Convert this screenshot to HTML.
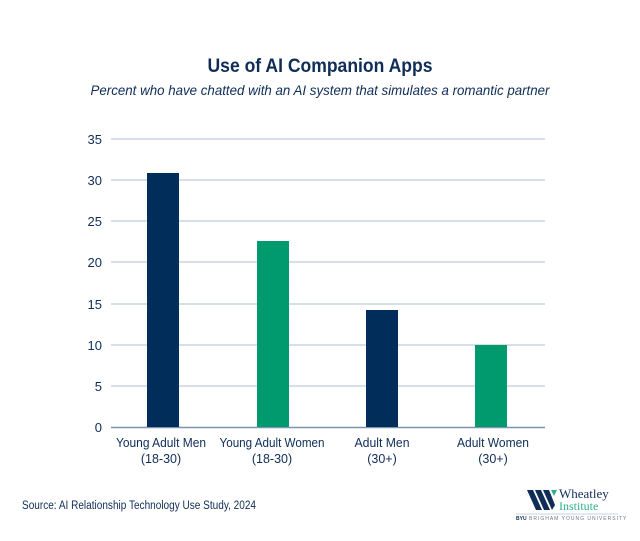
<!DOCTYPE html>
<html><head><style>
body{margin:0;width:640px;height:536px;background:#fff;overflow:hidden;font-family:"Liberation Sans",sans-serif}
</style></head><body>
<svg width="640" height="536" xmlns="http://www.w3.org/2000/svg" font-family="Liberation Sans, sans-serif">
<text x="320" y="72" text-anchor="middle" font-size="19" font-weight="bold" fill="#0f2d57" textLength="225" lengthAdjust="spacingAndGlyphs">Use of AI Companion Apps</text>
<text x="320" y="95" text-anchor="middle" font-size="14" font-style="italic" fill="#0f2d57" textLength="459" lengthAdjust="spacingAndGlyphs">Percent who have chatted with an AI system that simulates a romantic partner</text>
<g stroke="#c9d3df" stroke-width="1.5">
<line x1="111" x2="545" y1="139" y2="139"/><line x1="111" x2="545" y1="180" y2="180"/>
<line x1="111" x2="545" y1="221" y2="221"/><line x1="111" x2="545" y1="262" y2="262"/>
<line x1="111" x2="545" y1="304" y2="304"/><line x1="111" x2="545" y1="345" y2="345"/>
<line x1="111" x2="545" y1="386" y2="386"/>
</g>
<line x1="111" x2="545" y1="427.5" y2="427.5" stroke="#7f93ad" stroke-width="1.5"/>
<g font-size="13" fill="#0f2d57" text-anchor="end">
<text x="102" y="144">35</text><text x="102" y="185">30</text><text x="102" y="226">25</text>
<text x="102" y="267">20</text><text x="102" y="309">15</text><text x="102" y="350">10</text>
<text x="102" y="391">5</text><text x="102" y="432">0</text>
</g>
<rect x="147" y="173" width="32" height="254" fill="#012d5b"/>
<rect x="257" y="241" width="32" height="186" fill="#009a6e"/>
<rect x="366" y="310" width="32" height="117" fill="#012d5b"/>
<rect x="475" y="345" width="32" height="82" fill="#009a6e"/>
<g font-size="12.5" fill="#0f2d57" text-anchor="middle" lengthAdjust="spacingAndGlyphs">
<text x="161" y="447" textLength="90" lengthAdjust="spacingAndGlyphs">Young Adult Men</text><text x="161" y="463">(18-30)</text>
<text x="272" y="447" textLength="105" lengthAdjust="spacingAndGlyphs">Young Adult Women</text><text x="272" y="463">(18-30)</text>
<text x="382" y="447" textLength="55" lengthAdjust="spacingAndGlyphs">Adult Men</text><text x="382" y="463">(30+)</text>
<text x="493" y="447" textLength="72" lengthAdjust="spacingAndGlyphs">Adult Women</text><text x="493" y="463">(30+)</text>
</g>
<text x="22" y="509" font-size="11.5" fill="#0f2d57" textLength="234" lengthAdjust="spacingAndGlyphs">Source: AI Relationship Technology Use Study, 2024</text>
<g>
<polygon points="527,490 533,490 542,510 536,510" fill="#0f2d57"/>
<polygon points="535,490 541,490 550,510 544,510" fill="#0f2d57"/>
<polygon points="543,490 549,490 555,505 552,510" fill="#0f2d57"/>
<polygon points="551,490 557,490 554,496" fill="#2fb08a"/>
<text x="559" y="498" font-size="13" font-family="Liberation Serif, serif" fill="#0f2d57">Wheatley</text>
<text x="559" y="510" font-size="12" font-family="Liberation Serif, serif" fill="#2fb08a">Institute</text>
<line x1="516" x2="618" y1="514" y2="514" stroke="#c9d3df"/>
<text x="516" y="520" font-size="5" fill="#0f2d57" font-weight="bold">BYU</text>
<text x="529" y="520" font-size="5" fill="#6a7a90" letter-spacing="1">BRIGHAM YOUNG UNIVERSITY</text>
</g>
</svg>
</body></html>
